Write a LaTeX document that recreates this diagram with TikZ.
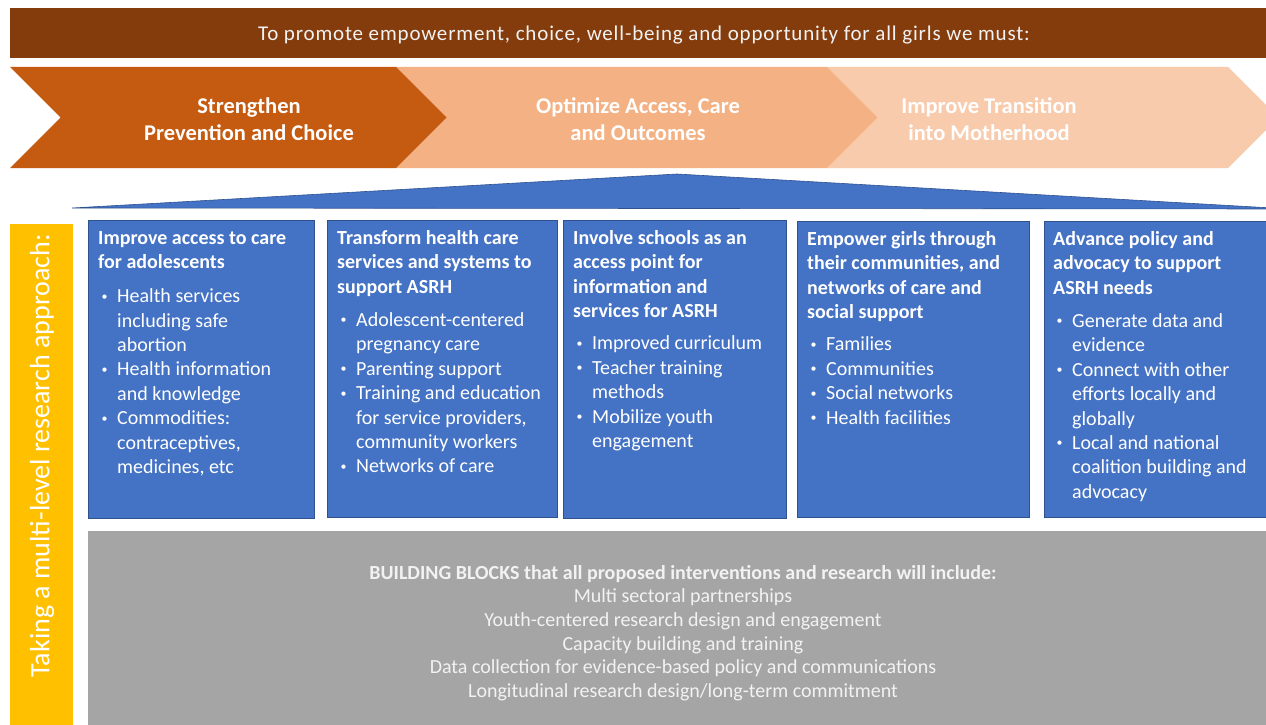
\documentclass[tikz,border=0pt]{standalone}
\usepackage{fontspec}
\setmainfont{Carlito}
\newfontfamily\bannerfont[LetterSpace=4]{Carlito}
\definecolor{banner}{HTML}{843C0C}
\definecolor{chevA}{HTML}{C55A11}
\definecolor{chevB}{HTML}{F4B183}
\definecolor{chevC}{HTML}{F8CBAD}
\definecolor{blueF}{HTML}{4472C4}
\definecolor{blueD}{HTML}{2F528F}
\definecolor{amber}{HTML}{FFC000}
\definecolor{greyF}{HTML}{A5A5A5}
\definecolor{paleT}{HTML}{F2F2F2}
% bullet mark and continuation indent for the card lists
\newcommand\bl{\makebox[19pt][l]{\hspace{3.5pt}\raisebox{2.5pt}{\fontsize{12}{12}\selectfont\textbullet}}}
\newcommand\ct{\hspace*{19pt}}
\begin{document}
\begin{tikzpicture}[x=1pt,y=-1pt,
  card/.style={draw=blueD, line width=0.8pt, fill=blueF, inner sep=0pt, anchor=north west},
  cardtext/.style={anchor=north west, inner sep=0pt, align=left, text=white,
    font=\fontsize{20}{24.4}\selectfont},
  chevtext/.style={anchor=north, inner sep=0pt, align=center, text=white,
    font=\bfseries\fontsize{22.5}{27}\selectfont},
]
\useasboundingbox (0,0) rectangle (1266,725);
\begin{scope}
\clip (0,0) rectangle (1266,725);

% goal banner
\node[fill=banner, inner sep=0pt, minimum width=1262pt, minimum height=50pt, anchor=north west] (goalbar) at (10,8) {};
\node[text=paleT, font=\bannerfont\fontsize{21}{24}\selectfont, anchor=base] (goal) at (644,41)
  {To promote empowerment, choice, well-being and opportunity for all girls we must:};

% chevron process
\fill[chevC] (827,67) -- (1228,67) -- (1278.5,117.5) -- (1228,168) -- (827,168) -- (877.5,117.5) -- cycle;
\fill[chevB] (396,67) -- (827,67) -- (877.5,117.5) -- (827,168) -- (396,168) -- (446.5,117.5) -- cycle;
\fill[chevA] (10,67) -- (396,67) -- (446.5,117.5) -- (396,168) -- (10,168) -- (60.5,117.5) -- cycle;
\node[chevtext] (chev1) at (249,94.1) {\strut Strengthen\\Prevention and Choice};
\node[chevtext] (chev2) at (638,94.1) {\strut Optimize Access, Care\\and Outcomes};
\node[chevtext] (chev3) at (989,94.1) {\strut Improve Transition\\into Motherhood};

% wide roof over the cards
\filldraw[fill=blueF, draw=blueD, line width=0.6pt] (72,208) -- (677,174) -- (1290,209) -- cycle;

% side bar
\node[fill=amber, inner sep=0pt, minimum width=63pt, minimum height=506pt, anchor=north west] (sidebar) at (10,224) {};
\node[rotate=90, text=white, font=\fontsize{28}{32}\selectfont, inner sep=0pt] (sidelabel) at (42,456)
  {Taking a multi-level research approach:};

% cards
\node[card, minimum width=226pt, minimum height=298pt] (b1) at (88,220) {};
\node[card, minimum width=230pt, minimum height=297pt] (b2) at (327,220) {};
\node[card, minimum width=223pt, minimum height=298pt] (b3) at (563,220) {};
\node[card, minimum width=232pt, minimum height=296pt] (b4) at (797,221) {};
\node[card, minimum width=240pt, minimum height=296pt] (b5) at (1044,221) {};

\node[cardtext] (t1) at ([xshift=10pt,yshift=-7pt]b1.north west) {\strut\textbf{Improve access to care}\\
\textbf{for adolescents}\\[9.6pt]
\bl Health services\\
\ct including safe\\
\ct abortion\\
\bl Health information\\
\ct and knowledge\\
\bl Commodities:\\
\ct contraceptives,\\
\ct medicines, etc};

\node[cardtext] (t2) at ([xshift=10pt,yshift=-7pt]b2.north west) {\strut\textbf{Transform health care}\\
\textbf{services and systems to}\\
\textbf{support ASRH}\\[9pt]
\bl Adolescent-centered\\
\ct pregnancy care\\
\bl Parenting support\\
\bl Training and education\\
\ct for service providers,\\
\ct community workers\\
\bl Networks of care};

\node[cardtext] (t3) at ([xshift=10pt,yshift=-7pt]b3.north west) {\strut\textbf{Involve schools as an}\\
\textbf{access point for}\\
\textbf{information and}\\
\textbf{services for ASRH}\\[8pt]
\bl Improved curriculum\\
\bl Teacher training\\
\ct methods\\
\bl Mobilize youth\\
\ct engagement};

\node[cardtext] (t4) at ([xshift=10pt,yshift=-7pt]b4.north west) {\strut\textbf{Empower girls through}\\
\textbf{their communities, and}\\
\textbf{networks of care and}\\
\textbf{social support}\\[8pt]
\bl Families\\
\bl Communities\\
\bl Social networks\\
\bl Health facilities};

\node[cardtext] (t5) at ([xshift=9pt,yshift=-7pt]b5.north west) {\strut\textbf{Advance policy and}\\
\textbf{advocacy to support}\\
\textbf{ASRH needs}\\[9pt]
\bl Generate data and\\
\ct evidence\\
\bl Connect with other\\
\ct efforts locally and\\
\ct globally\\
\bl Local and national\\
\ct coalition building and\\
\ct advocacy};

% building blocks
\node[fill=greyF, inner sep=0pt, minimum width=1190pt, minimum height=200pt, anchor=north west] (blocks) at (88,531) {};
\node[anchor=north, inner sep=0pt, align=center, text=paleT, font=\fontsize{20}{23.6}\selectfont] (blocktext) at (683,562.5)
  {\strut\textbf{BUILDING BLOCKS that all proposed interventions and research will include:}\\
   Multi sectoral partnerships\\
   Youth-centered research design and engagement\\
   Capacity building and training\\
   Data collection for evidence-based policy and communications\\
   Longitudinal research design/long-term commitment};
\end{scope}
\end{tikzpicture}
\end{document}
